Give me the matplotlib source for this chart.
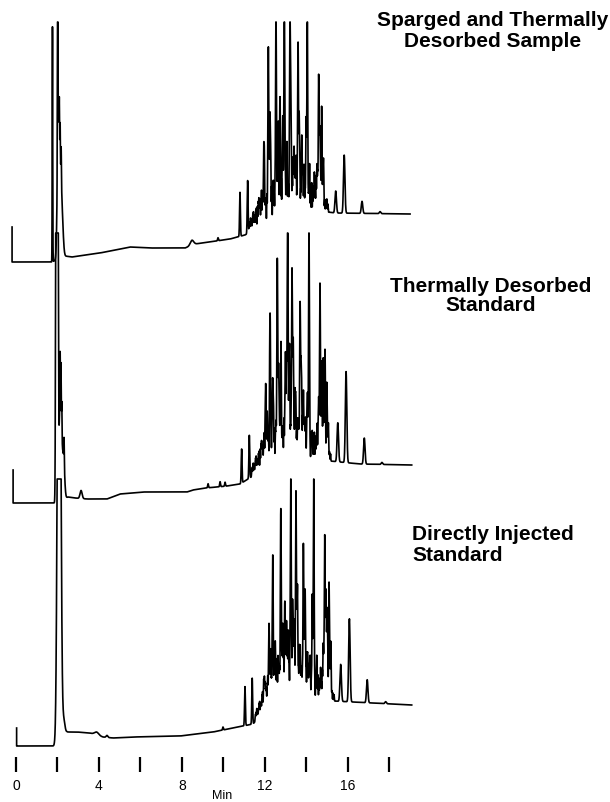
import numpy as np
import matplotlib.pyplot as plt

plt.rcParams['font.family'] = ['Liberation Sans', 'DejaVu Sans']

# time axis, minutes
tick_minutes = np.arange(0, 19, 2)
label_minutes = [0, 4, 8, 12, 16]

trace_labels = ['Sparged and Thermally\nDesorbed Sample',
                'Thermally Desorbed\nStandard',
                'Directly Injected\nStandard']

# ---- sparged + thermally desorbed sample ----
top_base_t = [1.74, 2.36, 2.70, 4.05, 5.50, 6.47, 8.16, 8.64, 10.33, 11.05,
              11.78, 12.50, 13.71, 14.67, 15.40, 19.02]
top_base_r = [0, 6, 5, 9, 15, 14, 14, 18, 23, 27, 35, 41, 47, 51, 49, 48]
top_peak_t = [9.75, 10.81, 11.18, 11.97, 12.18, 12.26, 12.55, 12.66, 12.74,
              12.87, 12.95, 13.06, 13.22, 13.27, 13.42, 13.51, 13.61, 13.67,
              13.79, 13.90, 14.00, 14.06, 14.16, 14.53, 14.61, 14.67, 14.75,
              14.83, 15.00, 15.43, 15.84, 16.70, 17.57]
top_peak_h = [3, 44, 53, 69, 149, 82, 199, 65, 94, 72, 198, 40, 178, 99, 46,
              31, 134, 75, 44, 30, 73, 192, 28, 26, 121, 76, 80, 46, 3, 22,
              58, 12, 2]
top_broad_t = [1.76, 2.01, 2.04, 2.15, 2.25, 2.09, 2.13, 2.18, 8.49]
top_broad_h = [235, 233, 120, 80, 20, 40, 35, 30, 5]
top_broad_s = [0.012, 0.012, 0.05, 0.06, 0.05, 0.01, 0.01, 0.01, 0.08]

# ---- thermally desorbed standard ----
mid_base_t = [1.86, 2.51, 2.85, 3.43, 4.39, 5.02, 6.13, 8.25, 8.54, 9.12,
              9.70, 10.18, 10.81, 11.44, 11.92, 12.60, 13.08, 13.95, 14.33,
              15.15, 16.60, 19.10]
mid_base_r = [0, 6, 5, 4, 4, 9, 11, 11, 13, 15, 16, 17, 19, 27, 37, 44, 51,
              49, 44, 42, 39, 38]
mid_peak_t = [9.27, 9.85, 10.09, 10.89, 11.26, 12.05, 12.13, 12.26, 12.39,
              12.61, 12.68, 12.79, 13.00, 13.06, 13.11, 13.19, 13.32, 13.38,
              13.47, 13.71, 13.77, 13.87, 14.06, 14.14, 14.27, 14.60, 14.67,
              14.75, 14.83, 14.91, 15.00, 15.07, 15.53, 15.93, 16.81, 17.66]
mid_peak_h = [4, 5, 4, 34, 43, 59, 30, 134, 57, 187, 80, 84, 72, 62, 211, 86,
              161, 76, 35, 129, 68, 42, 55, 222, 18, 33, 165, 93, 88, 107, 73,
              29, 39, 91, 26, 2]
mid_broad_t = [1.975, 2.14, 2.13, 2.17, 2.21, 2.30, 2.32, 3.14]
mid_broad_h = [3000, 100, 50, 45, 30, 35, 25, 8]
mid_broad_s = [0.03, 0.07, 0.01, 0.01, 0.01, 0.05, 0.012, 0.05]

# ---- directly injected standard ----
bot_base_t = [1.88, 2.45, 2.94, 3.57, 4.20, 4.68, 5.65, 7.92, 9.51, 10.47,
              10.96, 11.44, 11.78, 11.92, 12.60, 13.22, 13.71, 14.53, 15.30,
              16.26, 19.10]
bot_base_r = [0, 14, 14, 13, 9, 8, 9, 10, 14, 18, 20, 22, 30, 39, 44, 49, 47,
              47, 45, 44, 41]
bot_peak_t = [9.99, 11.05, 11.40, 11.97, 12.21, 12.29, 12.39, 12.50, 12.66,
              12.78, 12.87, 12.98, 13.06, 13.14, 13.26, 13.35, 13.42, 13.51,
              13.58, 13.71, 13.87, 13.95, 14.06, 14.19, 14.30, 14.37, 14.51,
              14.83, 14.90, 14.96, 15.02, 15.11, 15.19, 15.67, 16.09, 16.95,
              17.84]
bot_peak_h = [3, 39, 46, 15, 63, 33, 141, 47, 26, 180, 69, 88, 57, 45, 209,
              78, 55, 185, 97, 37, 138, 90, 37, 30, 87, 219, 30, 40, 148, 97,
              87, 110, 52, 37, 83, 23, 2]
bot_broad_t = [2.08, 2.30, 3.89, 4.39]
bot_broad_h = [700, 15, 3, 2]
bot_broad_s = [0.07, 0.06, 0.1, 0.04]

# small unresolved peaks in the 11.5-15.4 min envelope (direct-injection times)
minor_t = [11.55, 11.62, 11.70, 11.76, 11.83, 11.90, 12.02, 12.08, 12.15,
           12.25, 12.33, 12.45, 12.55, 12.60, 12.72, 12.83, 12.92, 13.02,
           13.10, 13.18, 13.30, 13.38, 13.45, 13.55, 13.63, 13.68, 13.76,
           13.82, 13.92, 14.00, 14.10, 14.15, 14.25, 14.42, 14.47, 14.57,
           14.62, 14.70, 14.78, 14.86, 15.05, 15.15, 15.25, 15.35,
           11.58, 11.66, 11.73, 11.80, 11.87, 11.95, 11.99, 12.05, 12.12,
           12.19, 12.22, 12.29, 12.36, 12.41, 12.48, 12.52, 12.58, 12.64,
           12.69, 12.76, 12.80, 12.89, 12.96, 13.05, 13.14, 13.22, 13.27,
           13.34, 13.42, 13.49, 13.52, 13.59, 13.66, 13.72, 13.79, 13.86,
           13.89, 13.96, 14.04, 14.08, 14.13, 14.20, 14.30, 14.35, 14.52,
           14.66, 14.74, 14.82, 14.90, 14.95, 15.00, 15.10, 15.20, 15.30]
minor_h = [8, 14, 10, 18, 12, 20, 28, 22, 35, 30, 25, 38, 30, 45, 40, 35, 48,
           30, 40, 36, 42, 50, 32, 40, 34, 45, 38, 30, 42, 35, 28, 32, 22, 15,
           24, 30, 20, 40, 35, 28, 25, 18, 12, 8,
           10, 12, 16, 14, 18, 22, 25, 20, 26, 30, 22, 28, 24, 30, 26, 34, 28,
           36, 30, 28, 32, 26, 34, 30, 28, 34, 26, 30, 28, 24, 30, 26, 32, 24,
           28, 22, 26, 30, 24, 22, 26, 20, 22, 18, 20, 26, 22, 24, 20, 18, 16,
           14, 12, 10]

traces = [
    dict(base=(top_base_t, top_base_r), peaks=(top_peak_t, top_peak_h),
         broad=(top_broad_t, top_broad_h, top_broad_s), shift=-0.30, scale=1.0,
         offset=540, start=-0.19, end=19.02, step=35, full=240),
    dict(base=(mid_base_t, mid_base_r), peaks=(mid_peak_t, mid_peak_h),
         broad=(mid_broad_t, mid_broad_h, mid_broad_s), shift=-0.17, scale=0.9,
         offset=299, start=-0.14, end=19.10, step=33, full=270),
    dict(base=(bot_base_t, bot_base_r), peaks=(bot_peak_t, bot_peak_h),
         broad=(bot_broad_t, bot_broad_h, bot_broad_s), shift=0.0, scale=0.8,
         offset=56, start=0.03, end=19.10, step=18, full=267),
]


def gauss(t, c, h, s):
    return h * np.exp(-0.5 * ((t - c) / s) ** 2)


def chromatogram(tr):
    t = np.arange(tr['start'], tr['end'], 0.002)
    y = np.interp(t, *tr['base'])
    for c, h in zip(*tr['peaks']):
        y += gauss(t, c, h, 0.035 if c > 15.3 else 0.02)
    for c, h, s in zip(*tr['broad']):
        y += gauss(t, c, h, s)
    for c, h in zip(minor_t, minor_h):
        y += gauss(t, c + tr['shift'], h * tr['scale'], 0.012)
    y = np.minimum(y, tr['full'])
    # pen starts above the zero line and drops to it
    t = np.concatenate([[tr['start']], t])
    y = np.concatenate([[tr['step']], y])
    return t, y + tr['offset']


fig = plt.figure(figsize=(6.1, 8.03), dpi=100)
ax = fig.add_axes([0, 0, 1, 1])
ax.set_xlim(-16 / 20.72, 594 / 20.72)
ax.set_ylim(0, 803)
ax.axis('off')

for tr in traces:
    t, y = chromatogram(tr)
    ax.plot(t, y, color='black', lw=1.2)

ax.vlines(tick_minutes, 30, 45, color='black', lw=1.6)
for m in label_minutes:
    ax.text(m, 17, str(m), ha='center', va='center', fontsize=10)
ax.text(9.94, 7, 'Min', ha='center', va='center', fontsize=9)

fig.text(493 / 610, 1 - 31 / 803, trace_labels[0], ha='center', va='center',
         fontsize=15, fontweight='bold', linespacing=1.12)
fig.text(491 / 610, 1 - 296 / 803, trace_labels[1], ha='center', va='center',
         fontsize=15, fontweight='bold', linespacing=1.05)
fig.text(412 / 610, 1 - 545 / 803, trace_labels[2], ha='left', va='center',
         fontsize=15, fontweight='bold', linespacing=1.1)

fig.savefig('out.png', dpi=100)
